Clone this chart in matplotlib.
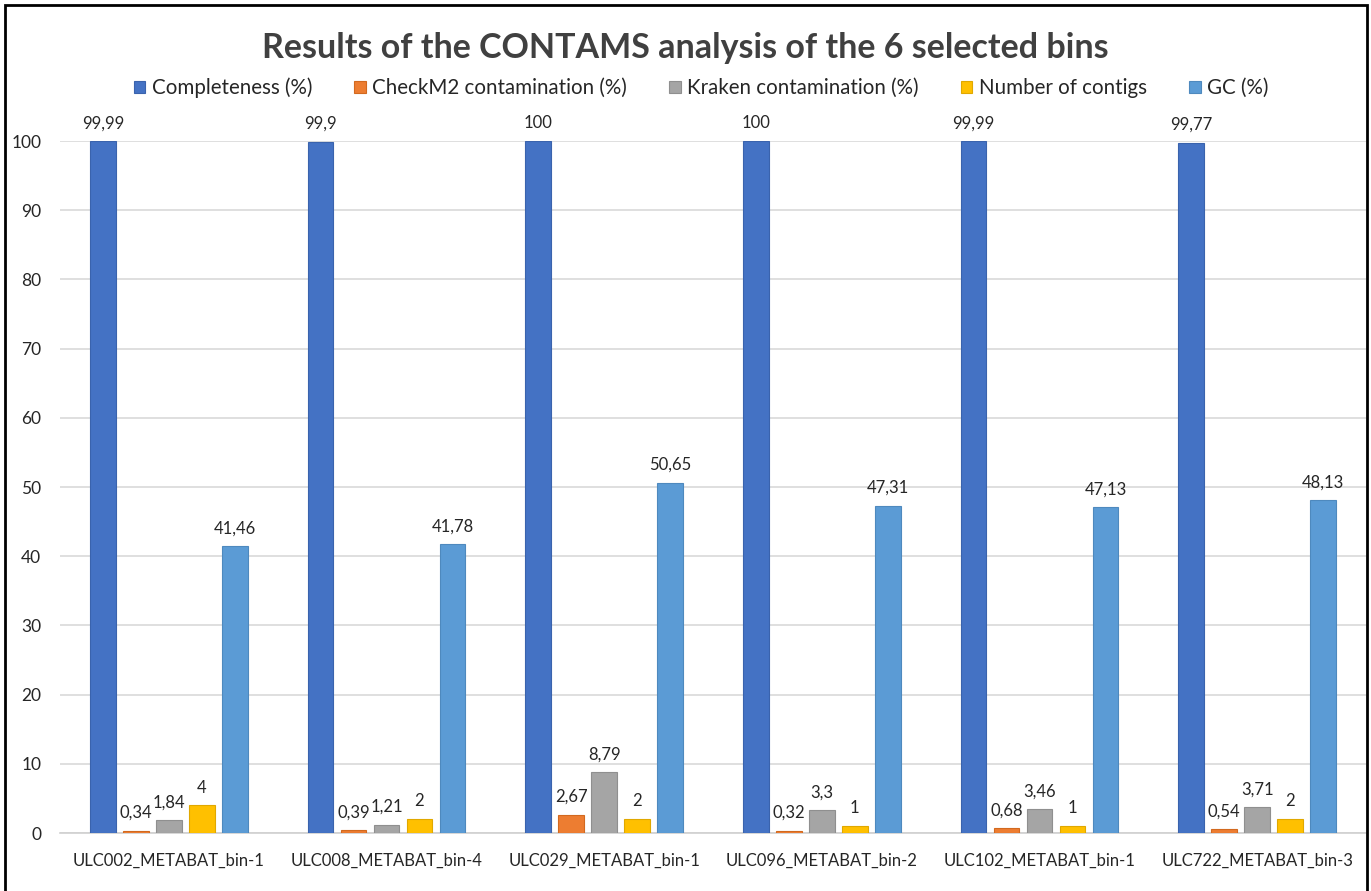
import matplotlib.pyplot as plt
import numpy as np
from matplotlib.patches import Rectangle

plt.rcParams['font.family'] = ['Lato', 'DejaVu Sans']

# data
bins = ['ULC002_METABAT_bin-1', 'ULC008_METABAT_bin-4', 'ULC029_METABAT_bin-1',
        'ULC096_METABAT_bin-2', 'ULC102_METABAT_bin-1', 'ULC722_METABAT_bin-3']
completeness = [99.99, 99.9, 100, 100, 99.99, 99.77]
checkm2_contam = [0.34, 0.39, 2.67, 0.32, 0.68, 0.54]
kraken_contam = [1.84, 1.21, 8.79, 3.3, 3.46, 3.71]
n_contigs = [4, 2, 2, 1, 1, 2]
gc = [41.46, 41.78, 50.65, 47.31, 47.13, 48.13]

series_names = ['Completeness (%)', 'CheckM2 contamination (%)',
                'Kraken contamination (%)', 'Number of contigs', 'GC (%)']
colors = ['#4472C4', '#ED7D31', '#A5A5A5', '#FFC000', '#5B9BD5']
edges = ['#3A63AD', '#D2691F', '#8F8F8F', '#E0A800', '#4E89BE']

series = [completeness, checkm2_contam, kraken_contam, n_contigs, gc]

fig = plt.figure(figsize=(13.71, 8.91), dpi=100)
ax = fig.add_axes([60/1371, 58/891, (1366-60)/1371, (833-141)/891])

x = np.arange(len(bins))
slot = 0.1516
width = 0.119
txt = '#262626'

for i, (vals, name) in enumerate(zip(series, series_names)):
    bars = ax.bar(x + (i - 2) * slot, vals, width, color=colors[i],
                  edgecolor=edges[i], linewidth=0.8, label=name, zorder=3)
    labels = [f'{v:g}'.replace('.', ',') for v in vals]
    ax.bar_label(bars, labels=labels, padding=7, fontsize=12, color=txt)

ax.set_xlim(-0.5, len(bins) - 0.5)
ax.set_ylim(0, 100)
ax.set_yticks(range(0, 101, 10))
ax.set_xticks(x)
ax.set_xticklabels(bins)
ax.tick_params(axis='both', length=0, labelcolor=txt)
ax.tick_params(axis='x', pad=14, labelsize=12)
ax.tick_params(axis='y', pad=13.5, labelsize=12.5)
ax.grid(axis='y', color='#D9D9D9', linewidth=1.2, zorder=0)
for s in ['top', 'right', 'left']:
    ax.spines[s].set_visible(False)
ax.spines['bottom'].set_color('#D0D0D0')
ax.spines['bottom'].set_linewidth(1.2)

fig.text(0.5, 1 - 48/891, 'Results of the CONTAMS analysis of the 6 selected bins',
         ha='center', va='center', fontsize=24.5, fontweight='bold', color='#404040')

fig.legend(loc='center', bbox_to_anchor=(701/1371, 1 - 88/891), ncol=5, frameon=False,
           fontsize=14.8, handlelength=0.56, handleheight=0.56, handletextpad=0.32,
           columnspacing=2.05, labelcolor=txt)

# chart border
fig.patches.append(Rectangle((5/1371, -0.02), 1362/1371, 1 - 5/891 + 0.02,
                             transform=fig.transFigure, fill=False,
                             edgecolor='black', linewidth=2))

plt.savefig('out.png', dpi=100)
